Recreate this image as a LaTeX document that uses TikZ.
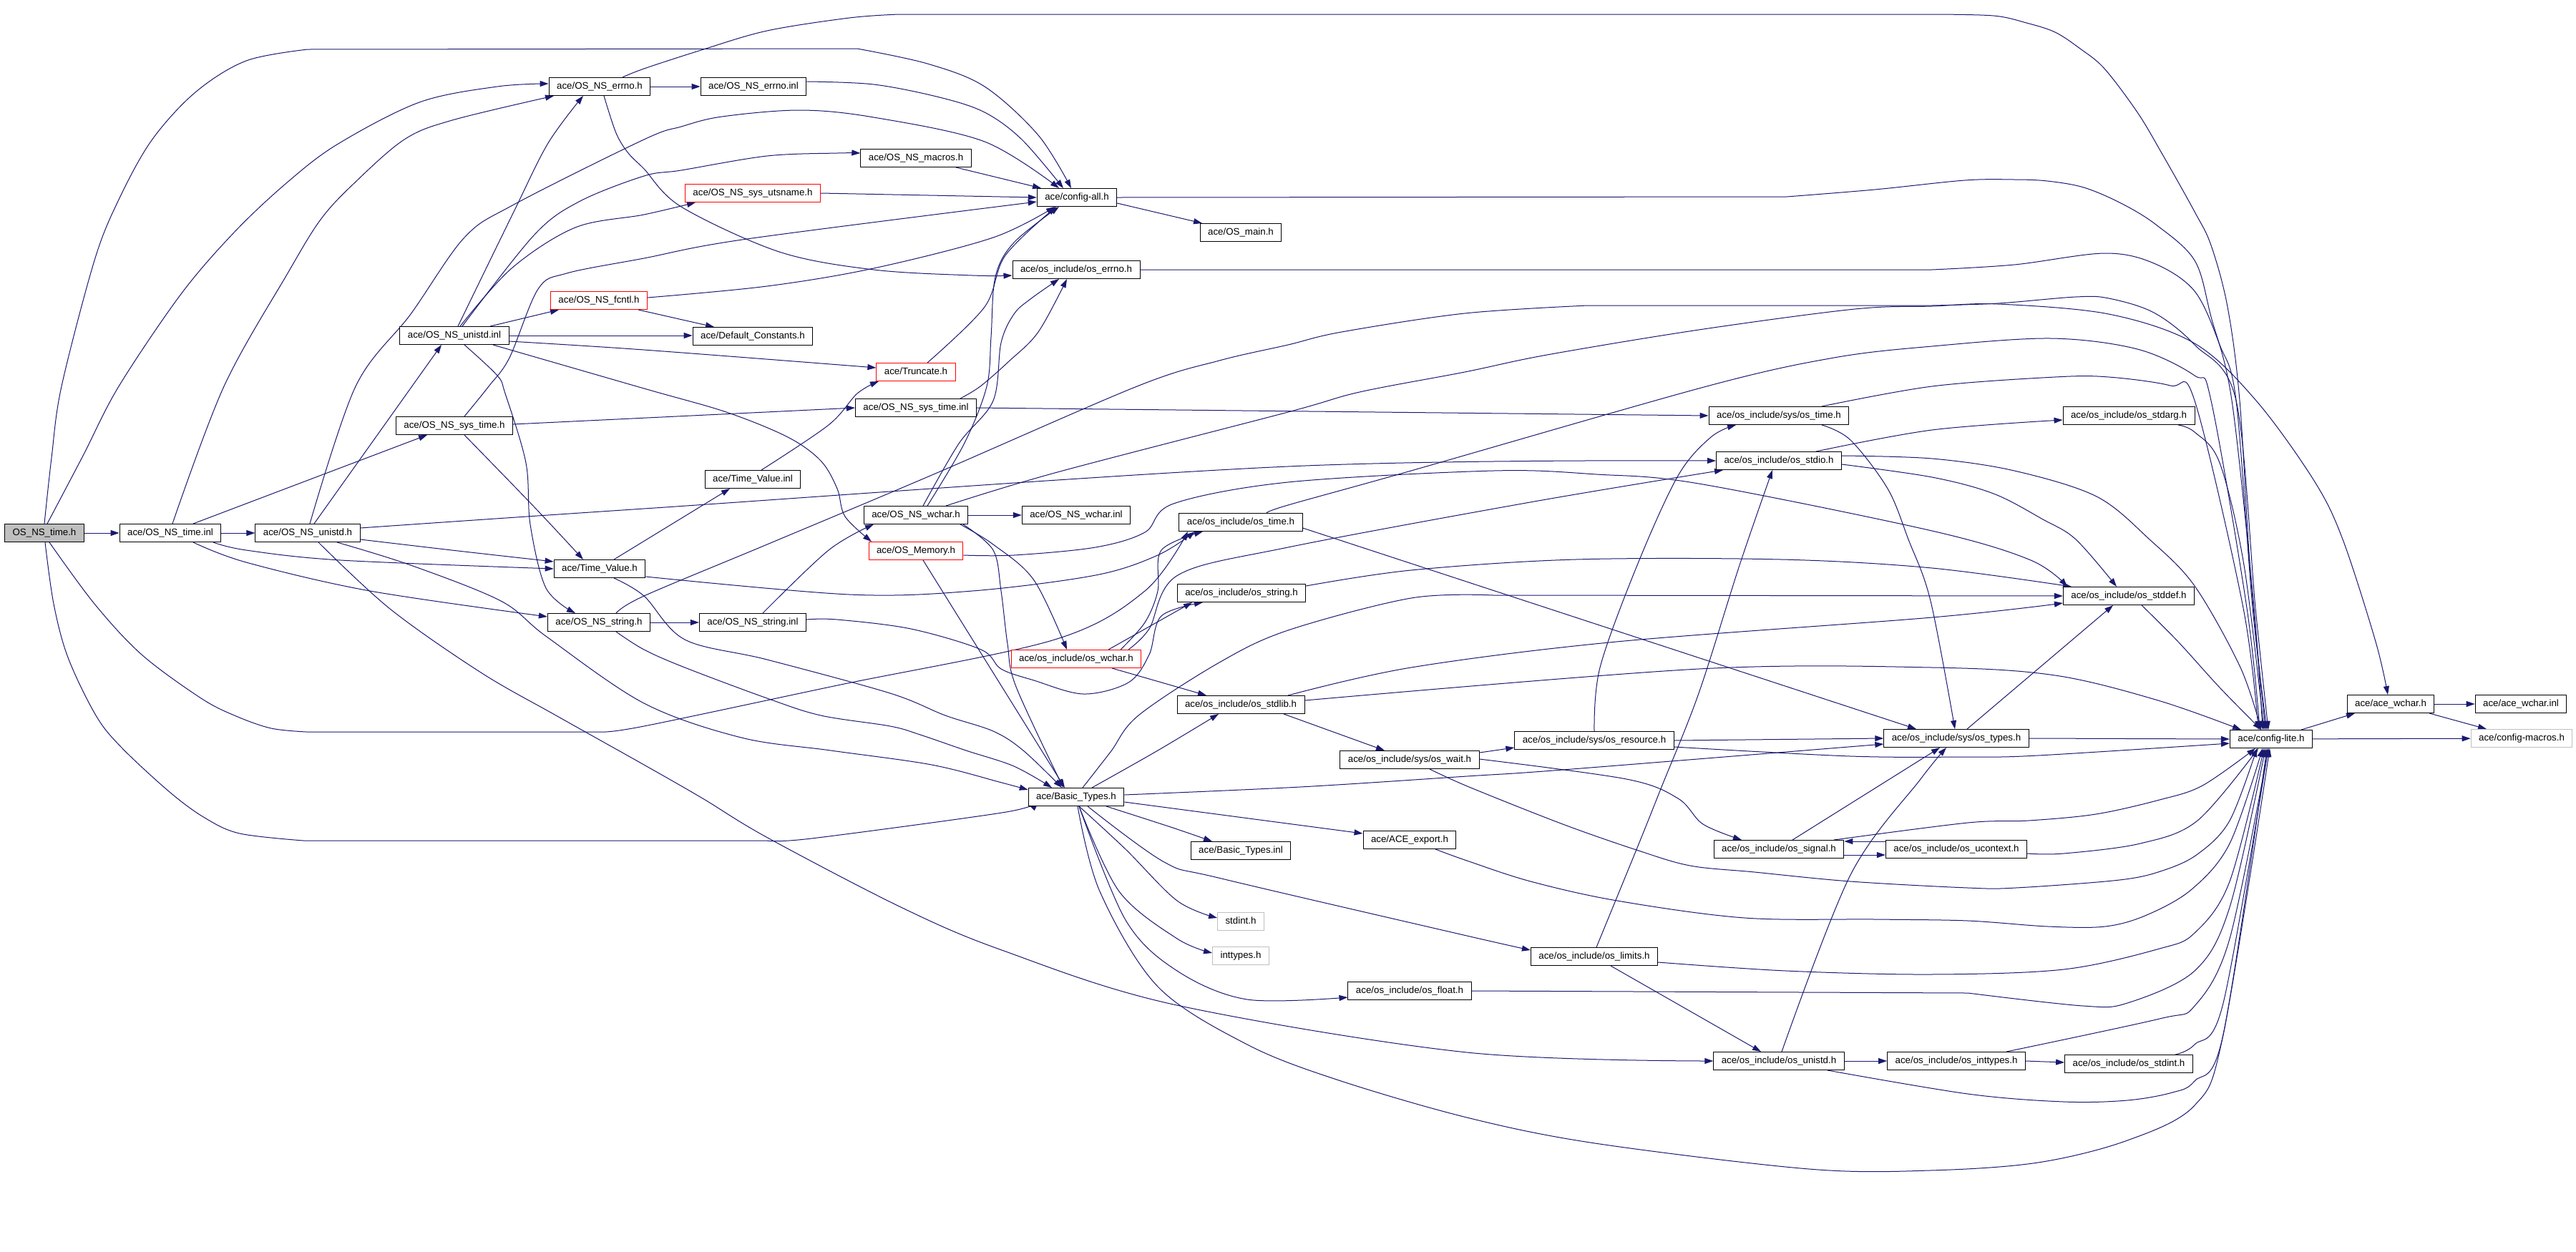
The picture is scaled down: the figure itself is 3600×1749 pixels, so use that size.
\documentclass[tikz,border=0pt]{standalone}
\usepackage{fontspec}
\setmainfont{Liberation Sans}
\usetikzlibrary{arrows.meta}
\definecolor{edgecol}{RGB}{25,25,112}
\definecolor{grayb}{RGB}{191,191,191}
\definecolor{redb}{RGB}{255,0,0}
\pgfdeclarelayer{bg}
\pgfdeclarelayer{paper}
\pgfsetlayers{paper,bg,main}
\begin{document}
\begin{tikzpicture}[x=1pt,y=-1pt,
  nb/.style={draw=black,line width=1pt,fill=white,inner xsep=11pt,inner ysep=0pt,minimum height=25pt,text height=9.8pt,text depth=3pt,font=\fontsize{13.3}{16}\selectfont},
  rbox/.style={nb,draw=redb},
  gbox/.style={nb,draw=grayb},
  rootbox/.style={nb,fill=grayb},
  edg/.style={draw=edgecol,line width=1pt,-{Triangle[length=12pt,width=8pt]}},
  sm/.style={smooth,tension=0.55}]
\begin{pgfonlayer}{paper}
\fill[white] (0,0) rectangle (3600,1749);
\end{pgfonlayer}
\useasboundingbox (0,0) rectangle (3600,1749);
% nodes
\node[rootbox] (timeh) at (62,745) {OS\_NS\_time.h};
\node[nb] (timeinl) at (238,745) {ace/OS\_NS\_time.inl};
\node[nb] (unistdh) at (430,745) {ace/OS\_NS\_unistd.h};
\node[nb] (unistdinl) at (635,469) {ace/OS\_NS\_unistd.inl};
\node[nb] (systimeh) at (635,595) {ace/OS\_NS\_sys\_time.h};
\node[nb] (errnoh) at (838,121) {ace/OS\_NS\_errno.h};
\node[rbox] (fcntl) at (837,420) {ace/OS\_NS\_fcntl.h};
\node[nb] (tvh) at (838,795) {ace/Time\_Value.h};
\node[nb] (stringh) at (837,870) {ace/OS\_NS\_string.h};
\node[nb] (errnoinl) at (1053,121) {ace/OS\_NS\_errno.inl};
\node[rbox] (utsname) at (1052,270) {ace/OS\_NS\_sys\_utsname.h};
\node[nb] (defconst) at (1052,470) {ace/Default\_Constants.h};
\node[nb] (tvinl) at (1052,670) {ace/Time\_Value.inl};
\node[nb] (stringinl) at (1052,870) {ace/OS\_NS\_string.inl};
\node[nb] (macros) at (1280,221) {ace/OS\_NS\_macros.h};
\node[rbox] (truncate) at (1280,520) {ace/Truncate.h};
\node[nb] (systimeinl) at (1280,570) {ace/OS\_NS\_sys\_time.inl};
\node[nb] (wcharh) at (1280,720) {ace/OS\_NS\_wchar.h};
\node[rbox] (memory) at (1280,770) {ace/OS\_Memory.h};
\node[nb] (cfgall) at (1505,276) {ace/config-all.h};
\node[nb] (oserrno) at (1504,377) {ace/os\_include/os\_errno.h};
\node[nb] (wcharinl) at (1504,720) {ace/OS\_NS\_wchar.inl};
\node[rbox] (oswchar) at (1504,921) {ace/os\_include/os\_wchar.h};
\node[nb] (btypes) at (1504,1114) {ace/Basic\_Types.h};
\node[nb] (osmain) at (1734,325) {ace/OS\_main.h};
\node[nb] (ostime) at (1734,730) {ace/os\_include/os\_time.h};
\node[nb] (osstring) at (1735,829) {ace/os\_include/os\_string.h};
\node[nb] (osstdlib) at (1734,985) {ace/os\_include/os\_stdlib.h};
\node[nb] (btinl) at (1734,1189) {ace/Basic\_Types.inl};
\node[gbox] (stdint) at (1734,1288) {stdint.h};
\node[gbox] (inttypes) at (1734,1336) {inttypes.h};
\node[nb] (oswait) at (1970,1062) {ace/os\_include/sys/os\_wait.h};
\node[nb] (aceexport) at (1970,1174) {ace/ACE\_export.h};
\node[nb] (osfloat) at (1970,1385) {ace/os\_include/os\_float.h};
\node[nb] (osresource) at (2228,1035) {ace/os\_include/sys/os\_resource.h};
\node[nb] (oslimits) at (2228,1337) {ace/os\_include/os\_limits.h};
\node[nb] (sysostime) at (2486,581) {ace/os\_include/sys/os\_time.h};
\node[nb] (osstdio) at (2486,644) {ace/os\_include/os\_stdio.h};
\node[nb] (ossignal) at (2486,1187) {ace/os\_include/os\_signal.h};
\node[nb] (osunistd) at (2486,1483) {ace/os\_include/os\_unistd.h};
\node[nb] (sysostypes) at (2734,1032) {ace/os\_include/sys/os\_types.h};
\node[nb] (osucontext) at (2734,1187) {ace/os\_include/os\_ucontext.h};
\node[nb] (osinttypes) at (2734,1483) {ace/os\_include/os\_inttypes.h};
\node[nb] (osstdarg) at (2975,581) {ace/os\_include/os\_stdarg.h};
\node[nb] (osstddef) at (2975,833) {ace/os\_include/os\_stddef.h};
\node[nb] (osstdint) at (2975,1487) {ace/os\_include/os\_stdint.h};
\node[nb] (cfglite) at (3174,1033) {ace/config-lite.h};
\node[nb] (acewchar) at (3341,984) {ace/ace\_wchar.h};
\node[nb] (acewcharinl) at (3523,984) {ace/ace\_wchar.inl};
\node[gbox] (cfgmacros) at (3524,1032) {ace/config-macros.h};
\begin{pgfonlayer}{bg}
% OS_NS_time.h
\draw[edg] (timeh) -- (timeinl);
\draw[edg] plot[sm] coordinates {([xshift=4pt]timeh.north) (116,637) (166,540) (253,411) (327,325) (399,257) (471,202) (586,143) (695,121) ([yshift=4pt]errnoh.west)};
\draw[edg] plot[sm] coordinates {(timeh.north) (72,640) (86,540) (132,364) (166,279) (212,196) (273,129) (344,85) (430,69)} -- plot[sm] coordinates {(1198,68) (1296,89) (1376,121) (1451,189) ([xshift=-8pt]cfgall.north)};
\draw[edg] plot[sm] coordinates {([xshift=7pt]timeh.south) (132,844) (198,915) (281,976) (330,1001) (379,1018) (428,1023)} -- plot[sm] coordinates {(839,1023) (900,1015) (1170,958) (1474,894) (1600,826) ([xshift=-74pt]ostime.south)};
\draw[edg] plot[sm] coordinates {([xshift=1pt]timeh.south) (75,844) (95,919) (134,1000) (170,1045) (237,1107) (286,1143) (335,1165) (424,1175)} -- plot[sm] coordinates {(1071,1175) (1134,1172) (1400,1136) ([yshift=-10pt]btypes.west)};
% OS_NS_time.inl
\draw[edg] (timeinl) -- (unistdh);
\draw[edg] plot[sm] coordinates {([xshift=3pt]timeinl.north) (313,540) (402,382) (448,307) (494,257) (565,195) (632,168) ([xshift=-64pt]errnoh.south)};
\draw[edg] ([xshift=32pt]timeinl.north) -- ([xshift=-38pt]systimeh.south);
\draw[edg] plot[sm] coordinates {([xshift=60pt]timeinl.south) (344,769) (476,783) (tvh.west)};
\draw[edg] plot[sm] coordinates {([xshift=32pt]timeinl.south) (344,786) (517,826) ([yshift=8pt]stringh.west)};
% OS_NS_unistd.h
\draw[edg] ([xshift=9pt]unistdh.north) -- ([xshift=-18pt]unistdinl.south);
\draw[edg] plot[sm] coordinates {([xshift=3pt]unistdh.north) (497,540) (574,439) (649,332) (718,286) (900,195) (952,177) (1009,163) (1118,154) (1221,164) (1376,198) ([xshift=-25pt]cfgall.north)};
\draw[edg] plot[sm] coordinates {([yshift=-9pt]unistdh.east) (640,770) ([yshift=10pt]tvh.west)};
\draw[edg] plot[sm] coordinates {([yshift=7pt]unistdh.east) (900,711) (1800,652) (osstdio.west)};
\draw[edg] plot[sm] coordinates {([xshift=15pt]unistdh.south) (545,851) (672,940) (777,1000) (900,1069) (982,1116) (1071,1170) (1259,1268) (1400,1328) (1640,1404) (2050,1471) (osunistd.west)};
\draw[edg] plot[sm] coordinates {([xshift=41pt]unistdh.south) (574,790) (700,840) (764,890) (900,983) (1036,1031) (1161,1049) (1302,1069) (1400,1094) ([yshift=10pt]btypes.west)};
% OS_NS_sys_time.h
\draw[edg] ([yshift=2pt]systimeh.east) -- (systimeinl.west);
\draw[edg] plot[sm] coordinates {([xshift=14pt]systimeh.north) (683,540) (712,500) (752,404) (792,382) (900,361) (1044,334) ([yshift=-6pt]cfgall.west)};
\draw[edg] plot[sm] coordinates {([xshift=14pt]systimeh.south) (746,708) ([xshift=-23pt]tvh.north)};
% OS_NS_unistd.inl
\draw[edg] plot[sm] coordinates {([xshift=5pt]unistdinl.north) (718,296) (766,200) ([xshift=-23pt]errnoh.south)};
\draw[edg] plot[sm] coordinates {([xshift=11pt]unistdinl.north) (746,329) (809,282) (900,246) (952,238) (1072,218) (1170,214) ([yshift=7pt]macros.west)};
\draw[edg] plot[sm] coordinates {([xshift=8pt]unistdinl.north) (715,375) (804,318) (900,300) ([xshift=-80pt]utsname.south)};
\draw[edg] ([xshift=50pt]unistdinl.north) -- ([xshift=-56pt]fcntl.south);
\draw[edg] (unistdinl.east) -- ([yshift=1pt]defconst.west);
\draw[edg] plot[sm] coordinates {([yshift=-8pt]unistdinl.east) (900,489) ([yshift=6pt]truncate.west)};
\draw[edg] plot[sm] coordinates {([xshift=54pt]unistdinl.south) (900,543) (1015,576) (1101,611) (1147,644) (1170,683) (1181,722) ([xshift=-62pt]memory.north)};
\draw[edg] plot[sm] coordinates {([xshift=14pt]unistdinl.south) (695,525) (706,550) (735,647) (741,733) (763,822) ([xshift=-33pt]stringh.north)};
% fcntl
\draw[edg] plot[sm] coordinates {([yshift=4pt]fcntl.east) (1072,400) (1221,375) (1388,332) ([xshift=-31pt]cfgall.south)};
\draw[edg] ([xshift=55pt]fcntl.south) -- ([xshift=-54pt]defconst.north);
% errno
\draw[edg] (errnoh) -- (errnoinl);
\draw[edg] plot[sm] coordinates {([xshift=6pt]errnoh.south) (861,186) (878,214) (900,236) (952,289) (1089,352) (1221,377) (1359,385) ([yshift=-8pt]oserrno.west)};
\draw[edg] plot[sm] coordinates {([xshift=32pt]errnoh.north) (900,96) (980,70) (1072,43) (1187,25) (1256,20)} -- plot[sm] coordinates {(2700,20) (2786,22) (2832,32) (2872,45) (2907,68) (2941,96) (2987,157) (3021,214) (3067,296) (3090,343) (3113,429) (3130,560) (3145,800) ([xshift=-8pt]cfglite.north)};
\draw[edg] plot[sm] coordinates {([yshift=7pt]errnoinl.east) (1221,118) (1313,136) (1376,157) (1428,195) ([xshift=-19pt]cfgall.north)};
% rank 6/7 to config-all
\draw[edg] ([xshift=56pt]macros.south) -- ([xshift=-50pt]cfgall.north);
\draw[edg] (utsname.east) -- (cfgall.west);
\draw[edg] ([yshift=-8pt]cfgall.east) -- ([xshift=-54pt]osmain.north);
\draw[edg] (cfgall.east) -- plot[sm] coordinates {(2497,275) (2620,265) (2746,252) (2815,251) (2861,253) (2912,262) (2964,284) (3013,314) (3067,364) (3090,443) (3119,560) (3150,850) ([xshift=-12pt]cfglite.north)};
\draw[edg] (oserrno.east) -- plot[sm] coordinates {(2700,377) (2815,370) (2941,354) (3010,368) (3067,407) (3102,482) (3125,560) (3148,850) ([xshift=-6pt]cfglite.north)};
\draw[edg] plot[sm] coordinates {([xshift=16pt]truncate.north) (1376,429) (1405,357) ([xshift=-29pt]cfgall.south)};
% Time_Value
\draw[edg] ([xshift=20pt]tvh.north) -- ([xshift=-32pt]tvinl.south);
\draw[edg] plot[sm] coordinates {([yshift=-11pt]tvh.east) (1187,831) (1359,826) (1531,804) (1618,776) ([xshift=-64pt]ostime.south)};
\draw[edg] plot[sm] coordinates {([xshift=20pt]tvh.south) (900,833) (957,894) (1072,922) (1244,969) (1321,1000) (1388,1022) (1430,1049) ([xshift=-20pt]btypes.north)};
\draw[edg] plot[sm] coordinates {([xshift=12pt]tvinl.north) (1158,594) (1198,550) ([xshift=-52pt]truncate.south)};
% OS_NS_string
\draw[edg] (stringh) -- (stringinl);
\draw[edg] plot[sm] coordinates {([xshift=24pt]stringh.north) (900,833) (1072,761) (1300,665) (1589,540) (1704,504) (1800,482) (1875,464) (2047,438) (2219,427)} -- plot[sm] coordinates {(2700,427) (2792,424) (2901,415) (2947,417) (3010,437) (3067,482) (3125,560) (3152,850) ([xshift=-4pt]cfglite.north)};
\draw[edg] plot[sm] coordinates {([xshift=24pt]stringh.south) (900,908) (957,933) (1072,976) (1147,1000) (1244,1015) (1286,1027) (1350,1049) (1417,1071) ([xshift=-34pt]btypes.north)};
\draw[edg] plot[sm] coordinates {([xshift=14pt]stringinl.north) (1158,769) ([xshift=-59pt]wcharh.south)};
\draw[edg] plot[sm] coordinates {([yshift=4pt]stringinl.east) (1170,866) (1273,879) (1371,908) (1399,935) (1445,951) (1514,970) (1577,954) (1606,915) (1623,861) ([xshift=-54pt]osstring.south)};
% OS_NS_wchar.h
\draw[edg] (wcharh) -- (wcharinl);
\draw[edg] plot[sm] coordinates {([xshift=16pt]wcharh.north) (1348,619) (1379,540) (1385,471) (1391,387) (1417,339) ([xshift=-25pt]cfgall.south)};
\draw[edg] plot[sm] coordinates {([xshift=10pt]wcharh.north) (1340,620) (1388,560) (1399,479) (1417,439) (1440,418) ([xshift=-24pt]oserrno.south)};
\draw[edg] plot[sm] coordinates {([xshift=62pt]systimeinl.north) (1370,540) (1410,505) (1451,464) ([xshift=-13pt]oserrno.south)};
\draw[edg] (systimeinl.east) -- (sysostime.west);
\draw[edg] plot[sm] coordinates {([xshift=66pt]wcharh.south) (1388,769) (1399,826) (1408,900) (1420,960) ([xshift=-18pt]btypes.north)};
\draw[edg] plot[sm] coordinates {([xshift=62pt]wcharh.south) (1388,761) (1445,811) ([xshift=-13pt]oswchar.north)};
\draw[edg] plot[sm] coordinates {([xshift=42pt]wcharh.north) (1474,661) (1800,576) (1900,548) (2047,520) (2162,496) (2374,461) (2592,432) (2700,428) (2792,425) (2947,439) (3067,480) (3153,560) (3234,672) (3274,754) (3320,897) ([xshift=-4pt]acewchar.north)};
% OS_Memory.h
\draw[edg] ([xshift=10pt]memory.south) -- ([xshift=-16pt]btypes.north);
\draw[edg] plot[sm] coordinates {([yshift=-6pt]memory.east) (1417,776) (1531,765) (1600,744) (1640,704) (1800,674) (2087,658) (2231,663) (2374,676) (2700,742) (2838,783) ([xshift=-86pt]osstddef.north)};
% os_wchar.h
\draw[edg] plot[sm] coordinates {([xshift=62pt]oswchar.north) (1600,870) (1618,826) (1623,769) ([xshift=-53pt]ostime.south)};
\draw[edg] ([xshift=45pt]oswchar.north) -- ([xshift=-69pt]osstring.south);
\draw[edg] plot[sm] coordinates {([xshift=73pt]oswchar.north) (1606,879) (1646,804) (1800,765) (2144,701) ([xshift=-78pt]osstdio.south)};
\draw[edg] ([xshift=50pt]oswchar.south) -- ([xshift=-48pt]osstdlib.north);
% Basic_Types.h
\draw[edg] plot[sm] coordinates {([xshift=22pt]btypes.north) (1618,1049) ([xshift=-31pt]osstdlib.south)};
\draw[edg] plot[sm] coordinates {([xshift=9pt]btypes.north) (1552,1051) (1591,1000) (1704,926) (1800,881) (1972,836) (2087,832)} -- (osstddef.west);
\draw[edg] plot[sm] coordinates {([yshift=3pt]btypes.east) (1817,1100) (2050,1085) (2184,1076) ([yshift=-8pt]sysostypes.west)};
\draw[edg] ([yshift=-7pt]btypes.east) -- ([yshift=9pt]aceexport.west);
\draw[edg] plot[sm] coordinates {([xshift=42pt]btypes.south) (1636,1156) ([xshift=-40pt]btinl.north)};
\draw[edg] plot[sm] coordinates {([xshift=16pt]btypes.south) (1627,1205) (1707,1228) (2050,1308) ([yshift=9pt]oslimits.west)};
\draw[edg] plot[sm] coordinates {([xshift=4pt]btypes.south) (1573,1187) (1645,1259) ([yshift=5pt]stdint.west)};
\draw[edg] plot[sm] coordinates {([xshift=4pt]btypes.south) (1564,1246) (1645,1312) ([yshift=4pt]inttypes.west)};
\draw[edg] plot[sm] coordinates {([xshift=4pt]btypes.south) (1573,1286) (1645,1357) (1743,1397) ([yshift=-9pt]osfloat.west)};
\draw[edg] plot[sm] coordinates {([xshift=2pt]btypes.south) (1537,1246) (1618,1379) (1743,1460) (1868,1509) (2050,1562) (2229,1598) (2528,1634) (2697,1636) (2848,1625) (2973,1594) (3067,1545) (3107,1446) ([xshift=-2pt]cfglite.south)};
% os_stdlib.h
\draw[edg] plot[sm] coordinates {([xshift=66pt]osstdlib.north) (1972,933) (2259,897) (2700,863) ([yshift=-10pt]osstddef.west)};
\draw[edg] plot[sm] coordinates {([yshift=6pt]osstdlib.east) (2374,935) (2700,933) (2872,944) (3016,979) ([xshift=-42pt]cfglite.north)};
\draw[edg] ([xshift=60pt]osstdlib.south) -- ([xshift=-35pt]oswait.north);
% os_time.h
\draw[edg] plot[sm] coordinates {([xshift=36pt]ostime.north) (1800,706) (1972,658) (2385,540) (2563,500) (2700,484) (2866,473) (2987,488) (3067,525) (3090,560) (3140,850) ([xshift=-16pt]cfglite.north)};
\draw[edg] ([yshift=-8pt]ostime.east) -- ([xshift=-56pt]sysostypes.north);
% sys/os_time.h
\draw[edg] plot[sm] coordinates {([xshift=60pt]sysostime.north) (2700,540) (2872,527) (2947,527) (3033,539) (3067,560) (3135,850) ([xshift=-18pt]cfglite.north)};
\draw[edg] plot[sm] coordinates {([xshift=60pt]sysostime.south) (2586,615) (2638,683) (2667,754) (2698,840) ([xshift=-2pt]sysostypes.north)};
% os_stdio.h
\draw[edg] plot[sm] coordinates {([xshift=52pt]osstdio.north) (2700,601) ([yshift=-6pt]osstdarg.west)};
\draw[edg] plot[sm] coordinates {([yshift=7pt]osstdio.east) (2700,641) (2815,658) (2930,694) (3004,754) (3067,819) (3131,933) ([xshift=-14pt]cfglite.north)};
\draw[edg] plot[sm] coordinates {([yshift=-5pt]osstdio.east) (2700,667) (2786,690) (2855,726) (2901,754) ([xshift=-17pt]osstddef.north)};
% os_string.h
\draw[edg] plot[sm] coordinates {([yshift=10pt]osstring.east) (1972,797) (2202,782) (2489,782) (2700,794) ([xshift=-80pt]osstddef.north)};
% os_stddef, os_stdarg
\draw[edg] plot[sm] coordinates {([xshift=18pt]osstddef.south) (3044,897) (3102,961) ([xshift=-14pt]cfglite.north)};
\draw[edg] plot[sm] coordinates {([xshift=69pt]osstdarg.south) (3067,604) (3102,647) (3136,790) ([xshift=-10pt]cfglite.north)};
% sys/os_types.h
\draw[edg] (sysostypes.east) -- (cfglite.west);
\draw[edg] ([xshift=15pt]sysostypes.north) -- ([xshift=-22pt]osstddef.south);
% sys/os_wait.h
\draw[edg] ([yshift=10pt]oswait.east) -- ([yshift=-10pt]osresource.west);
\draw[edg] plot[sm] coordinates {([yshift=1pt]oswait.east) (2273,1089) (2345,1116) (2380,1152) ([xshift=-52pt]ossignal.north)};
\draw[edg] plot[sm] coordinates {([xshift=28pt]oswait.south) (2053,1100) (2184,1152) (2287,1188) (2362,1210) (2452,1219) (2586,1232) (2750,1241) (2817,1241) (2962,1230) (3022,1217) (3071,1194) (3116,1147) ([xshift=-20pt]cfglite.south)};
% sys/os_resource.h
\draw[edg] plot[sm] coordinates {(osresource.north) (2236,933) (2288,790) (2345,665) (2391,611) ([xshift=-60pt]sysostime.south)};
\draw[edg] (osresource.east) -- (sysostypes.west);
\draw[edg] plot[sm] coordinates {([yshift=-9pt]osresource.east) (2586,1057) (2750,1058) (2848,1056) ([yshift=-6pt]cfglite.west)};
% os_signal.h / os_ucontext.h
\draw[edg] ([xshift=19pt]ossignal.north) -- ([xshift=-23pt]sysostypes.south);
\draw[edg] ([yshift=-8pt]ossignal.east) -- ([yshift=-8pt]osucontext.west);
\draw[edg] ([yshift=11pt]osucontext.west) -- ([yshift=11pt]ossignal.east);
\draw[edg] plot[sm] coordinates {([xshift=77pt]ossignal.north) (2750,1150) (2835,1147) (2929,1138) (3018,1118) (3078,1098) ([xshift=-22pt]cfglite.south)};
\draw[edg] plot[sm] coordinates {([yshift=-6pt]osucontext.east) (2884,1193) (2991,1179) (3071,1147) ([xshift=-18pt]cfglite.south)};
% ACE_export.h
\draw[edg] plot[sm] coordinates {([xshift=36pt]aceexport.south) (2050,1203) (2139,1232) (2260,1259) (2438,1283) (2620,1285) (2750,1287) (2862,1295) (2942,1295) (3000,1279) (3063,1243) (3116,1179) ([xshift=-12pt]cfglite.south)};
% os_limits.h
\draw[edg] plot[sm] coordinates {([xshift=3pt]oslimits.north) (2290,1180) (2322,1100) (2374,969) (2431,790) ([xshift=-9pt]osstdio.south)};
\draw[edg] plot[sm] coordinates {([yshift=-8pt]oslimits.east) (2496,1357) (2697,1362) (2884,1355) (3018,1326) (3067,1304) (3116,1232) ([xshift=-10pt]cfglite.south)};
\draw[edg] ([xshift=23pt]oslimits.south) -- ([xshift=-25pt]osunistd.north);
% os_float.h
\draw[edg] (osfloat.east) -- plot[sm] coordinates {(2750,1388) (2911,1406) (2973,1402) (3067,1357) (3116,1268) ([xshift=-8pt]cfglite.south)};
% os_unistd.h
\draw[edg] plot[sm] coordinates {([xshift=4pt]osunistd.north) (2586,1223) (2684,1089) ([xshift=-14pt]sysostypes.south)};
\draw[edg] (osunistd) -- (osinttypes);
\draw[edg] plot[sm] coordinates {([xshift=68pt]osunistd.south) (2750,1529) (2884,1540) (2973,1538) (3036,1527) (3067,1511) (3107,1446) ([xshift=-6pt]cfglite.south)};
% os_inttypes.h / os_stdint.h
\draw[edg] (osinttypes.east) -- ([yshift=2pt]osstdint.west);
\draw[edg] plot[sm] coordinates {([xshift=70pt]osinttypes.north) (3018,1424) (3067,1406) (3116,1312) ([xshift=-4pt]cfglite.south)};
\draw[edg] plot[sm] coordinates {([xshift=65pt]osstdint.north) (3067,1460) (3107,1402) ([xshift=-4pt]cfglite.south)};
% config-lite.h and ace_wchar.h
\draw[edg] ([xshift=42pt]cfglite.north) -- ([xshift=-50pt]acewchar.south);
\draw[edg] (cfglite) -- (cfgmacros);
\draw[edg] (acewchar) -- (acewcharinl);
\draw[edg] ([xshift=54pt]acewchar.south) -- ([xshift=-49pt]cfgmacros.north);
\end{pgfonlayer}
\end{tikzpicture}
\end{document}
